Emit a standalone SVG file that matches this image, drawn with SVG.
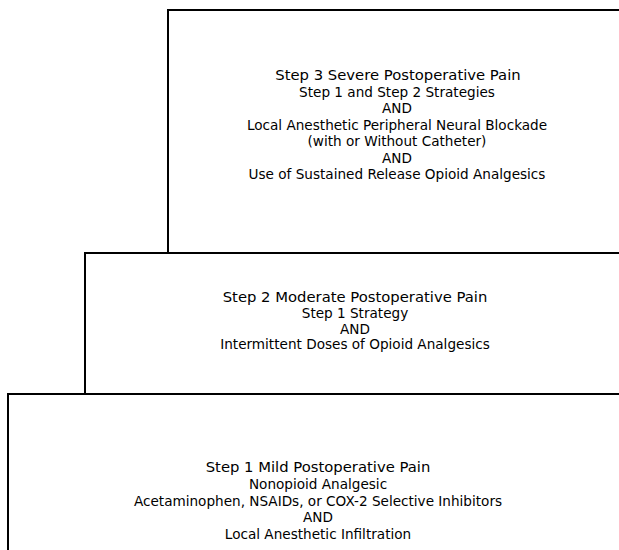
<svg xmlns="http://www.w3.org/2000/svg" width="619" height="550" viewBox="0 0 619 550">
<style>
.box{fill:none;stroke:#000;stroke-width:2}
text{font-family:"DejaVu Sans","Liberation Sans",sans-serif;fill:#000;text-anchor:middle}
.t{font-size:14.8px}
.b{font-size:13.6px}
</style>
<rect width="619" height="550" fill="#fff"/>
<g id="step3">
<path class="box" d="M620,10 H168 V253"/>
<text class="t" x="398" y="80">Step 3 Severe Postoperative Pain</text>
<text class="b" x="397" y="96.5">Step 1 and Step 2 Strategies</text>
<text class="b" x="397" y="113">AND</text>
<text class="b" x="397" y="129.5">Local Anesthetic Peripheral Neural Blockade</text>
<text class="b" x="397" y="146">(with or Without Catheter)</text>
<text class="b" x="397" y="162.5">AND</text>
<text class="b" x="397" y="179">Use of Sustained Release Opioid Analgesics</text>
</g>
<g id="step2">
<path class="box" d="M620,253 H85 V394"/>
<text class="t" x="355" y="302">Step 2 Moderate Postoperative Pain</text>
<text class="b" x="355" y="318">Step 1 Strategy</text>
<text class="b" x="355" y="333.5">AND</text>
<text class="b" x="355" y="349">Intermittent Doses of Opioid Analgesics</text>
</g>
<g id="step1">
<path class="box" d="M620,394 H8 V551"/>
<text class="t" x="318" y="472">Step 1 Mild Postoperative Pain</text>
<text class="b" x="318" y="489">Nonopioid Analgesic</text>
<text class="b" x="318" y="505.5">Acetaminophen, NSAIDs, or COX-2 Selective Inhibitors</text>
<text class="b" x="318" y="522">AND</text>
<text class="b" x="318" y="538.5">Local Anesthetic Infiltration</text>
</g>
<g id="connectors"/>
</svg>
